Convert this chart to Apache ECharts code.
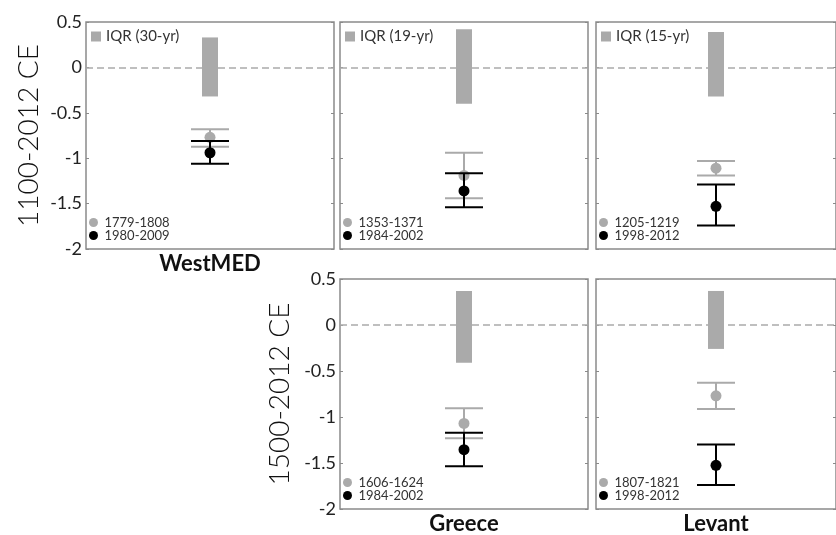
<!DOCTYPE html>
<html>
<head>
<meta charset="utf-8">
<script src="https://cdn.jsdelivr.net/npm/echarts@6/dist/echarts.min.js"></script>
<style>
html,body{margin:0;padding:0;background:#fff;}
#chart{width:836px;height:535px;}
</style>
</head>
<body>
<div id="chart"></div>
<script>
// ---- data ----
const regions = ['WestMED', 'Greece', 'Levant', 'Greece', 'Levant'];
const periodNames = ['1100-2012 CE', '1500-2012 CE'];
const iqrNames = ['IQR (30-yr)', 'IQR (19-yr)', 'IQR (15-yr)', 'IQR (19-yr)', 'IQR (15-yr)'];
const iqrHigh = [0.33, 0.42, 0.39, 0.37, 0.37];
const iqrLow = [-0.32, -0.40, -0.32, -0.41, -0.26];
const pastPeriods = ['1779-1808', '1353-1371', '1205-1219', '1606-1624', '1807-1821'];
const pastMean = [-0.77, -1.19, -1.11, -1.07, -0.77];
const pastHigh = [-0.68, -0.94, -1.03, -0.905, -0.627];
const pastLow = [-0.875, -1.44, -1.19, -1.23, -0.913];
const recentPeriods = ['1980-2009', '1984-2002', '1998-2012', '1984-2002', '1998-2012'];
const recentMean = [-0.94, -1.36, -1.53, -1.355, -1.525];
const recentHigh = [-0.81, -1.165, -1.29, -1.17, -1.30];
const recentLow = [-1.06, -1.54, -1.74, -1.535, -1.74];
const yMin = -2, yMax = 0.5, yStep = 0.5;

// ---- layout ----
const FONT = 'Lato, "Open Sans", sans-serif';
const frame = '#8a8a8a';
const grayC = '#aaaaaa';
const blackC = '#000000';
const pLeft = [86, 340, 596, 340, 596];
const pTop = [22, 22, 22, 279, 279];
const pW = 248;
const pH = [227, 227, 227, 230, 230];
const showYLabel = [true, false, false, true, false];
const showXLabel = [true, false, false, true, true];
const showIqrLegend = [true, true, true, false, false];
const periodIdx = [0, 0, 0, 1, 1];

const grids = [], xAxes = [], yAxes = [], series = [], legends = [];

function iqrRender(color) {
  return function (params, api) {
    const x = api.value(0);
    const a = api.coord([x, api.value(1)]);
    const b = api.coord([x, api.value(2)]);
    return {type: 'rect', shape: {x: a[0] - 8, y: a[1], width: 16, height: b[1] - a[1]},
            style: {fill: color}};
  };
}
function errRender(color) {
  return function (params, api) {
    const x = api.value(0);
    const a = api.coord([x, api.value(1)]);
    const b = api.coord([x, api.value(2)]);
    const st = {stroke: color, lineWidth: 2};
    return {type: 'group', children: [
      {type: 'line', shape: {x1: a[0], y1: a[1], x2: b[0], y2: b[1]}, style: st},
      {type: 'line', shape: {x1: a[0] - 19, y1: a[1], x2: a[0] + 19, y2: a[1]}, style: st},
      {type: 'line', shape: {x1: b[0] - 19, y1: b[1], x2: b[0] + 19, y2: b[1]}, style: st}
    ]};
  };
}

for (let i = 0; i < 5; i++) {
  grids.push({left: pLeft[i], top: pTop[i], width: pW, height: pH[i], show: true,
              borderColor: frame, borderWidth: 1.5, backgroundColor: 'transparent'});
  const xi = xAxes.length, yi = yAxes.length;
  xAxes.push({type: 'category', gridIndex: i, data: [regions[i]], position: 'bottom',
    axisLine: {show: false}, splitLine: {show: false},
    axisTick: {show: true, inside: true, length: 3, alignWithLabel: true, lineStyle: {color: frame}},
    axisLabel: {show: showXLabel[i], fontFamily: FONT, fontSize: 22, fontWeight: 'bold', color: '#111', margin: 4}});
  xAxes.push({type: 'category', gridIndex: i, data: [regions[i]], position: 'top',
    axisLine: {show: false}, splitLine: {show: false}, axisLabel: {show: false},
    axisTick: {show: true, inside: true, length: 3, alignWithLabel: true, lineStyle: {color: frame}}});
  yAxes.push({type: 'value', gridIndex: i, min: yMin, max: yMax, interval: yStep, position: 'left',
    axisLine: {show: false}, splitLine: {show: false},
    axisTick: {show: true, inside: true, length: 3, lineStyle: {color: frame}},
    axisLabel: {show: showYLabel[i], fontFamily: FONT, fontSize: 18, color: '#222', margin: 4},
    name: showYLabel[i] ? periodNames[periodIdx[i]] : '',
    nameLocation: 'middle', nameRotate: 90, nameGap: i === 0 ? 43 : 46,
    nameTextStyle: {fontFamily: FONT, fontSize: 28, fontWeight: 300, color: '#111'}});
  yAxes.push({type: 'value', gridIndex: i, min: yMin, max: yMax, interval: yStep, position: 'right',
    axisLine: {show: false}, splitLine: {show: false}, axisLabel: {show: false},
    axisTick: {show: true, inside: true, length: 3, lineStyle: {color: frame}}});

  series.push({type: 'custom', name: iqrNames[i], xAxisIndex: xi, yAxisIndex: yi, z: 1,
    renderItem: iqrRender(grayC), itemStyle: {color: grayC},
    data: [[regions[i], iqrHigh[i], iqrLow[i]]],
    markLine: {silent: true, symbol: 'none', label: {show: false},
      lineStyle: {color: '#aaaaaa', type: [7, 4], width: 1.5}, data: [{yAxis: 0}]}});
  series.push({type: 'custom', name: pastPeriods[i], xAxisIndex: xi, yAxisIndex: yi, z: 3,
    renderItem: errRender(grayC), itemStyle: {color: grayC},
    data: [[regions[i], pastHigh[i], pastLow[i]]]});
  series.push({type: 'scatter', name: pastPeriods[i], xAxisIndex: xi, yAxisIndex: yi, z: 4,
    symbol: 'circle', symbolSize: 11, itemStyle: {color: grayC, opacity: 1},
    data: [[regions[i], pastMean[i]]]});
  series.push({type: 'custom', name: recentPeriods[i], xAxisIndex: xi, yAxisIndex: yi, z: 5,
    renderItem: errRender(blackC), itemStyle: {color: blackC},
    data: [[regions[i], recentHigh[i], recentLow[i]]]});
  series.push({type: 'scatter', name: recentPeriods[i], xAxisIndex: xi, yAxisIndex: yi, z: 6,
    symbol: 'circle', symbolSize: 11, itemStyle: {color: blackC, opacity: 1},
    data: [[regions[i], recentMean[i]]]});

  if (showIqrLegend[i]) {
    legends.push({left: pLeft[i] + 5, top: pTop[i] + 7, orient: 'vertical', selectedMode: false,
      itemWidth: 10, itemHeight: 10, padding: 0,
      textStyle: {fontFamily: FONT, fontSize: 15, color: '#333'},
      data: [{name: iqrNames[i], icon: 'rect', itemStyle: {color: grayC}}]});
  }
  legends.push({left: pLeft[i] + 3, top: pTop[i] + pH[i] - 33, orient: 'vertical', selectedMode: false,
    itemWidth: 12, itemHeight: 9, itemGap: 0, padding: 0,
    textStyle: {fontFamily: FONT, fontSize: 13, color: '#333', lineHeight: 13},
    data: [{name: pastPeriods[i], icon: 'circle', itemStyle: {color: grayC}},
           {name: recentPeriods[i], icon: 'circle', itemStyle: {color: blackC}}]});
}

const chart = echarts.init(document.getElementById('chart'), null, {renderer: 'canvas'});
chart.setOption({
  animation: false,
  backgroundColor: '#ffffff',
  grid: grids, xAxis: xAxes, yAxis: yAxes, legend: legends, series: series
});
</script>
</body>
</html>
